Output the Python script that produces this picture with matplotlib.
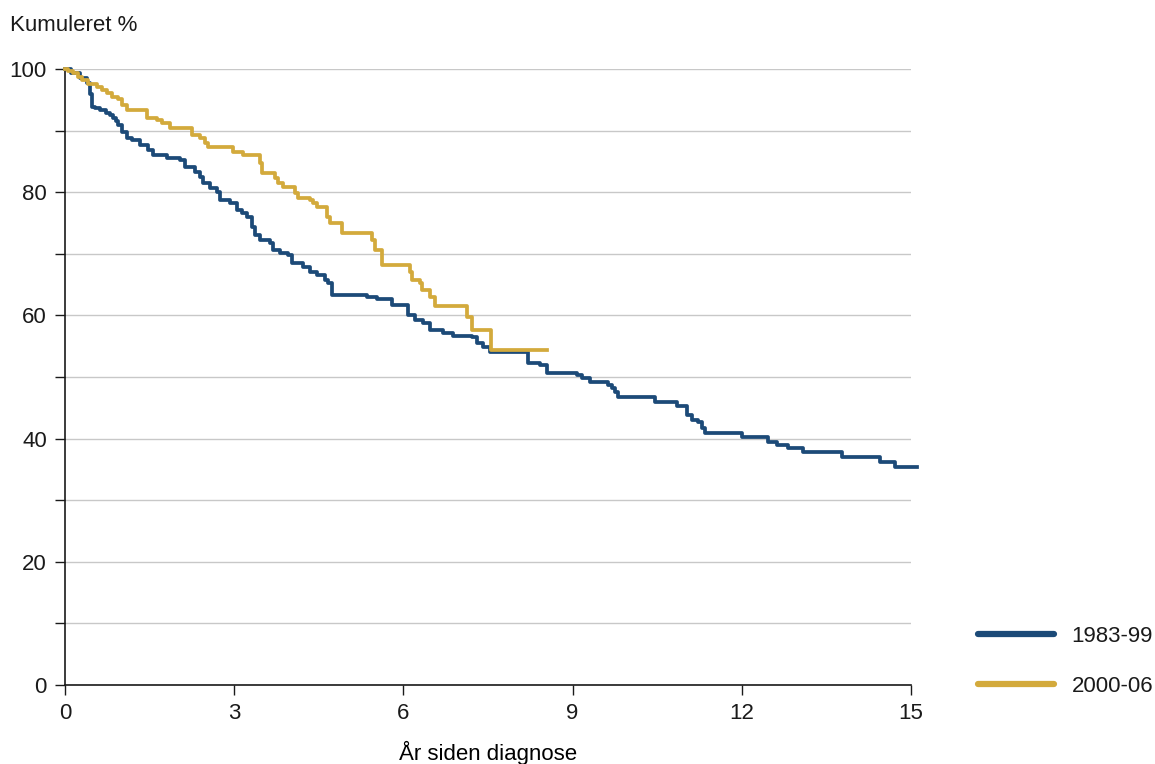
"""Kaplan-Meier style cumulative survival curves, two diagnosis periods."""

import matplotlib.pyplot as plt
from matplotlib.lines import Line2D

plt.rcParams.update({
    "font.family": ["Liberation Sans", "DejaVu Sans"],
    "figure.facecolor": "white",
    "axes.facecolor": "white",
    "text.color": "#1a1a1a",
    "xtick.color": "#1a1a1a",
    "ytick.color": "#1a1a1a",
})

BLUE = "#1c4a78"
GOLD = "#d3aa3c"

# ---------------------------------------------------------------------------
# Data (years since diagnosis, cumulative %)
# ---------------------------------------------------------------------------
years_8399 = [0, 0.10, 0.27, 0.39, 0.44, 0.48, 0.53, 0.62, 0.72, 0.80, 0.85, 0.90,
              0.94, 1.01, 1.10, 1.19, 1.33, 1.47, 1.56, 1.81, 2.04, 2.13, 2.30, 2.39,
              2.45, 2.57, 2.70, 2.75, 2.93, 3.05, 3.14, 3.23, 3.32, 3.37, 3.46, 3.63,
              3.69, 3.81, 3.95, 4.02, 4.22, 4.34, 4.47, 4.61, 4.66, 4.73, 5.35, 5.53,
              5.80, 6.08, 6.21, 6.35, 6.47, 6.70, 6.88, 7.22, 7.30, 7.41, 7.54, 8.21,
              8.42, 8.55, 9.08, 9.17, 9.31, 9.63, 9.70, 9.75, 9.80, 10.46, 10.85, 11.03,
              11.12, 11.22, 11.29, 11.35, 12.00, 12.46, 12.62, 12.82, 13.09, 13.78,
              14.45, 14.72, 15.10]
pct_8399 = [100, 99.3, 98.5, 97.7, 96.0, 93.8, 93.7, 93.3, 92.8, 92.5, 92.0, 91.5,
            90.9, 89.8, 88.8, 88.5, 87.7, 86.9, 86.0, 85.6, 85.2, 84.1, 83.3, 82.5,
            81.5, 80.7, 80.0, 78.7, 78.2, 77.1, 76.6, 76.0, 74.4, 73.1, 72.3, 71.8,
            70.6, 70.1, 69.8, 68.5, 67.9, 67.0, 66.6, 65.7, 65.3, 63.3, 63.0, 62.7,
            61.7, 60.1, 59.3, 58.8, 57.6, 57.1, 56.6, 56.5, 55.5, 54.9, 54.1, 52.3,
            51.9, 50.6, 50.3, 49.8, 49.2, 48.7, 48.2, 47.6, 46.8, 45.9, 45.3, 43.8,
            43.0, 42.7, 41.7, 40.9, 40.3, 39.4, 39.0, 38.5, 37.8, 37.0, 36.2, 35.4,
            35.4]

years_0006 = [0, 0.05, 0.14, 0.23, 0.30, 0.41, 0.57, 0.66, 0.74, 0.83, 0.94, 1.01,
              1.10, 1.45, 1.63, 1.72, 1.86, 2.25, 2.39, 2.48, 2.54, 2.98, 3.16, 3.46,
              3.49, 3.72, 3.78, 3.87, 4.08, 4.13, 4.34, 4.40, 4.47, 4.65, 4.70, 4.91,
              5.44, 5.50, 5.62, 6.12, 6.15, 6.29, 6.33, 6.47, 6.56, 7.13, 7.22, 7.55,
              8.55]
pct_0006 = [100, 99.6, 99.4, 98.7, 98.2, 97.5, 97.1, 96.6, 96.1, 95.5, 95.1, 94.2,
            93.3, 92.0, 91.7, 91.2, 90.4, 89.3, 88.8, 88.0, 87.3, 86.5, 86.0, 84.7,
            83.1, 82.3, 81.5, 80.8, 79.9, 79.1, 78.7, 78.2, 77.6, 76.0, 75.0, 73.4,
            72.2, 70.6, 68.2, 67.0, 65.7, 65.3, 64.1, 63.0, 61.5, 59.7, 57.6, 54.4,
            54.4]

series = [("1983-99", years_8399, pct_8399, BLUE),
          ("2000-06", years_0006, pct_0006, GOLD)]

fig = plt.figure(figsize=(11.55, 7.64), dpi=100)
ax = fig.add_axes([0.0563, 0.1034, 0.7324, 0.8063])

for label, x, y, color in series:
    ax.step(x, y, where="post", color=color, linewidth=2.7, clip_on=False, zorder=3)

ax.set_xlim(0, 15)
ax.set_ylim(0, 100)
ax.set_xticks(range(0, 16, 3))
ax.set_yticks(range(0, 101, 20))
ax.set_yticks(range(10, 100, 20), minor=True)
ax.tick_params(axis="both", which="both", direction="out", length=7, width=1,
               labelsize=16, pad=6)
ax.grid(axis="y", which="both", color="#c8c8c8", linewidth=1)
ax.set_axisbelow(True)
for side in ("top", "right"):
    ax.spines[side].set_visible(False)
for side in ("left", "bottom"):
    ax.spines[side].set_color("#1a1a1a")
    ax.spines[side].set_linewidth(1.2)

ax.set_xlabel("År siden diagnose", fontsize=16, labelpad=12)
fig.text(0.009, 0.966, "Kumuleret %", fontsize=16, va="center", ha="left")

handles = [Line2D([], [], color=c, linewidth=4.5, solid_capstyle="round")
           for _, _, _, c in series]
fig.legend(handles, [s[0] for s in series], loc="center left",
           bbox_to_anchor=(0.8468, 0.1345), frameon=False, fontsize=16,
           borderaxespad=0, borderpad=0,
           handlelength=3.4, handletextpad=0.8, labelspacing=1.3)

fig.savefig("out.png", dpi=100)
